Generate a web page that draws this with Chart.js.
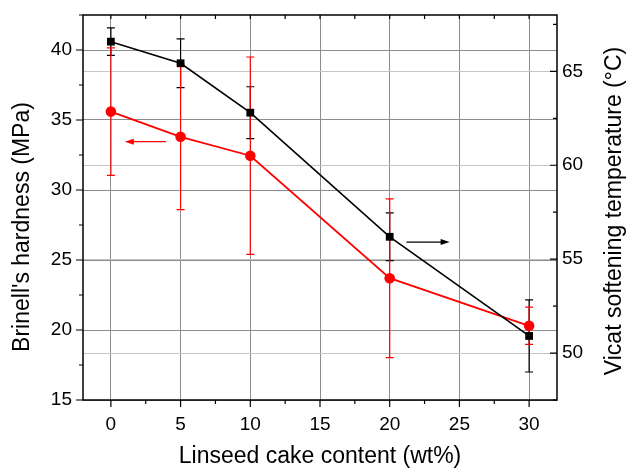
<!DOCTYPE html>
<html>
<head>
<meta charset="utf-8">
<script src="https://cdn.jsdelivr.net/npm/chart.js@4"></script>
<style>
  body { margin: 0; background: #fff; }
  canvas { display: block; }
</style>
</head>
<body>
<canvas id="chart" width="627" height="468"></canvas>
<script>
// linseed cake content (wt%)
const contents = [0, 5, 10, 20, 30];
// Brinell's hardness (MPa), left axis
const hardness = [35.6, 33.8, 32.45, 23.7, 20.3];
const hardnessErr = [4.55, 5.2, 7.05, 5.67, 1.33];
// Vicat softening temperature (°C), right axis
const vicat = [66.58, 65.43, 62.8, 56.19, 50.91];
const vicatErr = [0.73, 1.3, 1.38, 1.27, 1.92];

const xTicks = [0, 5, 10, 15, 20, 25, 30];
const leftTicks = [15, 20, 25, 30, 35, 40];
const rightTicks = [50, 55, 60, 65];

const FONT = "'Liberation Sans', Arial, sans-serif";

function toPoints(xs, ys) {
  return xs.map((x, i) => ({x: x, y: ys[i]}));
}

// vertical error bars with caps, drawn under the lines
const errorBars = {
  id: "errorBars",
  beforeDatasetsDraw(chart) {
    const ctx = chart.ctx;
    const xs = chart.scales.x;
    chart.data.datasets.forEach(ds => {
      const ys = chart.scales[ds.yAxisID];
      ctx.save();
      ctx.strokeStyle = ds.borderColor;
      ctx.lineWidth = 1.2;
      ds.data.forEach((p, j) => {
        const px = xs.getPixelForValue(p.x);
        const top = ys.getPixelForValue(p.y + ds.errors[j]);
        const bot = ys.getPixelForValue(p.y - ds.errors[j]);
        ctx.beginPath();
        ctx.moveTo(px, top); ctx.lineTo(px, bot);
        ctx.moveTo(px - 4, top); ctx.lineTo(px + 4, top);
        ctx.moveTo(px - 4, bot); ctx.lineTo(px + 4, bot);
        ctx.stroke();
      });
      ctx.restore();
    });
  }
};

// frame, major/minor ticks, arrows and axis titles
const frame = {
  id: "frame",
  afterDraw(chart) {
    const ctx = chart.ctx;
    const a = chart.chartArea;
    const {x, y, y2} = chart.scales;
    ctx.save();
    ctx.strokeStyle = "#000";
    ctx.lineWidth = 1.5;
    ctx.strokeRect(a.left, a.top, a.right - a.left, a.bottom - a.top);

    ctx.lineWidth = 1.2;
    ctx.beginPath();
    for (let v = 0; v <= 30; v += 2.5) {
      const px = x.getPixelForValue(v);
      const len = v % 5 === 0 ? 7 : 4;
      ctx.moveTo(px, a.bottom); ctx.lineTo(px, a.bottom + len);
      ctx.moveTo(px, a.top); ctx.lineTo(px, a.top + 4);
    }
    for (let v = 15; v <= 42.5; v += 2.5) {
      const py = y.getPixelForValue(v);
      const len = v % 5 === 0 ? 7 : 4;
      ctx.moveTo(a.left, py); ctx.lineTo(a.left - len, py);
    }
    for (let v = 47.5; v <= 68; v += 2.5) {
      const py = y2.getPixelForValue(v);
      const len = v % 5 === 0 ? 7 : 4;
      ctx.moveTo(a.right, py); ctx.lineTo(a.right - len, py);
    }
    ctx.stroke();

    // arrows pointing to each series' axis
    drawArrow(ctx, x.getPixelForValue(3.95), x.getPixelForValue(1.0), y.getPixelForValue(33.45), "#ff0000");
    drawArrow(ctx, x.getPixelForValue(21.2), x.getPixelForValue(24.3), y2.getPixelForValue(55.91), "#000000");

    ctx.fillStyle = "#000";
    ctx.font = "23px " + FONT;
    ctx.textAlign = "center";
    ctx.textBaseline = "alphabetic";
    ctx.fillText("Linseed cake content (wt%)", (a.left + a.right) / 2, 463);

    ctx.save();
    ctx.translate(29, 227);
    ctx.rotate(-Math.PI / 2);
    ctx.fillText("Brinell's hardness (MPa)", 0, 0);
    ctx.restore();

    ctx.save();
    ctx.translate(621, 211);
    ctx.rotate(-Math.PI / 2);
    ctx.fillText("Vicat softening temperature (°C)", 0, 0);
    ctx.restore();
    ctx.restore();
  }
};

function drawArrow(ctx, x0, x1, yy, color) {
  const dir = x1 > x0 ? 1 : -1;
  ctx.save();
  ctx.strokeStyle = color;
  ctx.fillStyle = color;
  ctx.lineWidth = 1.2;
  ctx.beginPath();
  ctx.moveTo(x0, yy); ctx.lineTo(x1 - dir * 6, yy);
  ctx.stroke();
  ctx.beginPath();
  ctx.moveTo(x1, yy);
  ctx.lineTo(x1 - dir * 9, yy - 3);
  ctx.lineTo(x1 - dir * 9, yy + 3);
  ctx.closePath();
  ctx.fill();
  ctx.restore();
}

function fixTicks(values) {
  return scale => { scale.ticks = values.map(v => ({value: v})); };
}

// fixed scale box sizes, no extra label padding
function fixSize(w, h) {
  return s => {
    if (w !== null) s.width = w;
    if (h !== null) s.height = h;
    s.paddingTop = 0; s.paddingBottom = 0;
    s.paddingLeft = 0; s.paddingRight = 0;
  };
}

new Chart(document.getElementById("chart"), {
  type: "line",
  data: {
    datasets: [
      {
        label: "Vicat",
        data: toPoints(contents, vicat),
        errors: vicatErr,
        yAxisID: "y2",
        borderColor: "#000000",
        backgroundColor: "#000000",
        borderWidth: 1.6,
        pointStyle: "rect",
        pointRadius: 5.5,
        pointBorderWidth: 0
      },
      {
        label: "Brinell",
        data: toPoints(contents, hardness),
        errors: hardnessErr,
        yAxisID: "y",
        borderColor: "#ff0000",
        backgroundColor: "#ff0000",
        borderWidth: 1.8,
        pointStyle: "circle",
        pointRadius: 5.3,
        pointBorderWidth: 0
      }
    ]
  },
  options: {
    responsive: false,
    animation: false,
    events: [],
    layout: {padding: {top: 15, left: 0, right: 0, bottom: 0}},
    plugins: {legend: {display: false}, tooltip: {enabled: false}},
    scales: {
      x: {
        type: "linear",
        position: "bottom",
        min: -2,
        max: 32,
        afterBuildTicks: fixTicks(xTicks),
        afterFit: fixSize(null, 68),
        ticks: {color: "#000", padding: 13, font: {family: FONT, size: 19}},
        grid: {color: "#8c8c8c", drawTicks: false, lineWidth: 1},
        border: {display: false}
      },
      y: {
        type: "linear",
        position: "left",
        min: 15,
        max: 42.5,
        afterBuildTicks: fixTicks(leftTicks),
        afterFit: fixSize(83, null),
        ticks: {color: "#000", padding: 11, font: {family: FONT, size: 19}},
        grid: {color: "#8c8c8c", drawTicks: false, lineWidth: 1},
        border: {display: false}
      },
      y2: {
        type: "linear",
        position: "right",
        min: 47.5,
        max: 68,
        afterBuildTicks: fixTicks(rightTicks),
        afterFit: fixSize(70, null),
        ticks: {color: "#000", padding: 5, font: {family: FONT, size: 19}},
        grid: {color: "#c4c4c4", drawTicks: false, lineWidth: 1},
        border: {display: false}
      }
    }
  },
  plugins: [errorBars, frame]
});
</script>
</body>
</html>
